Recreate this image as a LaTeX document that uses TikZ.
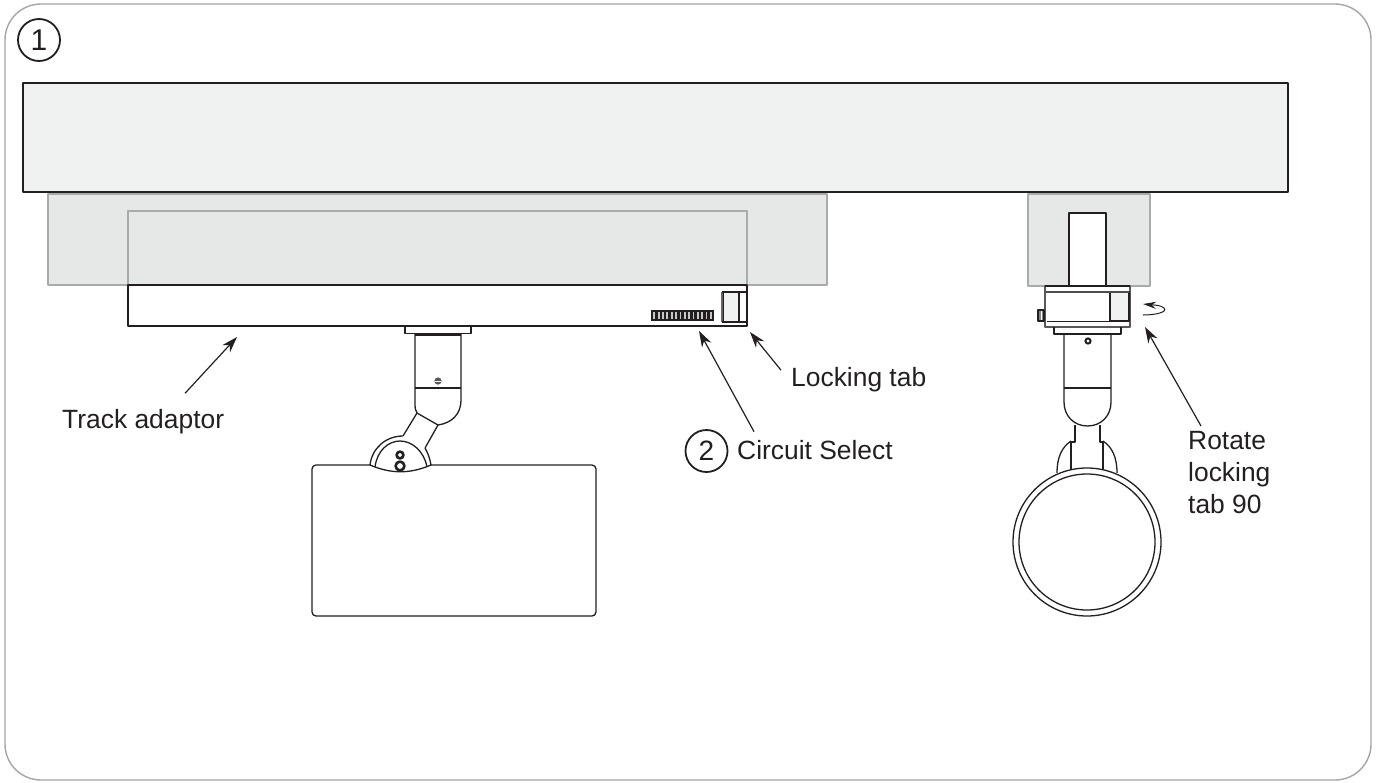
\documentclass[tikz,border=0pt]{standalone}
\usepackage{fontspec}
\setmainfont{Liberation Sans}
\usetikzlibrary{arrows.meta}
\definecolor{framegray}{HTML}{A3A5A7}
\definecolor{ceilfill}{HTML}{F0F2F1}
\definecolor{trackfill}{HTML}{E6E7E7}
\definecolor{trackline}{HTML}{A9ABAB}
\definecolor{inkdark}{HTML}{231F20}
\begin{document}
\begin{tikzpicture}[x=1pt,y=-1pt,>={Stealth[length=16pt,width=10.5pt]},
    line join=round,
    ink/.style={draw=inkdark,line width=1.3pt},
    thickink/.style={draw=inkdark,line width=2.2pt},
    block/.style={draw=trackline,fill=trackfill,line width=1.3pt},
    pointer/.style={->,draw=inkdark,line width=1.2pt},
    number node/.style={circle,draw=inkdark,line width=1.8pt,inner sep=0pt,text=inkdark,minimum size=42pt},
    callout/.style={anchor=base west,inner sep=0pt,text=inkdark,font=\fontsize{26.4}{32}\selectfont,align=left}]
    \useasboundingbox (0,0) rectangle (1378,782);
    % frame and ceiling
    \draw[draw=framegray,line width=1.4pt,rounded corners=36pt] (5,4) rectangle (1371,780);
    \node[number node,font=\fontsize{30}{34}\selectfont] (one) at (39,40) {1};
    \draw[ink,fill=ceilfill] (23,83) rectangle (1288,192);
    % left view, track
    \draw[block] (48,194) rectangle (827,285);
    \fill[white] (128,285) rectangle (747,326);
    \draw[draw=trackline,line width=1.3pt] (128,285) -- (128,211) -- (747,211) -- (747,285);
    \draw[ink] (128,285) rectangle (747,326);
    % locking tab
    \draw[ink,fill=ceilfill] (723,292) rectangle (739,322);
    \draw[thickink,draw=inkdark!70] (722,292) -- (722,322);
    \draw[ink] (722,292) -- (747,292) (722,322) -- (747,322);
    % circuit select
    \fill[inkdark] (651,310) rectangle (714,321);
    \foreach \i in {0,...,13}
        \fill[white!75!inkdark] ({653.4+4.35*\i},312) rectangle ({655.2+4.35*\i},319);
    % left view, stem
    \draw[ink] (405,326) -- (405,333.5) -- (471,333.5) -- (471,326);
    \draw[ink,fill=white] (415,334) -- (415,405) .. controls (415,409) and (416,411) .. (417,413)
        -- (438,425) .. controls (452,423) and (461,414) .. (461,400) -- (461,334);
    \draw[thickink] (415,334.5) -- (461,334.5) (415,388) -- (461,388);
    \fill[inkdark!75] (438,381) circle (3.6pt);
    \draw[white,line width=0.7pt] (435,381) -- (441,381);
    % left view, head
    \draw[ink,fill=white,rounded corners=4pt] (312,616) rectangle (596,465);
    \draw[ink] (417,413) -- (403,436) (438,425) -- (425,448);
    \fill[white] (370,465) .. controls (372,448) and (386,436) .. (403,436)
        -- (425,448) .. controls (428,453) and (430,459) .. (431,465)
        .. controls (410,474) and (391,474) .. (370,465) -- cycle;
    \draw[ink] (370,465) .. controls (372,448) and (386,436) .. (403,436)
        (425,448) .. controls (428,453) and (430,459) .. (431,465)
        .. controls (410,474) and (391,474) .. (370,465);
    \draw[ink] (375,467) .. controls (377,451) and (388,441) .. (400,441)
        .. controls (412,441) and (424,451) .. (427,467);
    \draw[line width=2.6pt,draw=inkdark] (400,455) circle (3.4pt) (400,466) circle (4.4pt);
    % right view, track
    \draw[block] (1028,194) rectangle (1150,286);
    \fill[white] (1069,213) rectangle (1106,287);
    \draw[ink] (1045,286) -- (1069,286) -- (1069,213) -- (1106,213) -- (1106,286) -- (1130,286);
    % right view, collar
    \fill[white] (1045,286) rectangle (1130,327);
    \draw[thickink,draw=inkdark!75] (1045,286) rectangle (1130,327);
    \draw[ink] (1045,286) -- (1130,286);
    \draw[ink,fill=ceilfill] (1110,292) rectangle (1129,321);
    \draw[thickink,draw=inkdark!80] (1046,292) -- (1129,292);
    \draw[ink] (1047,321.5) -- (1129,321.5);
    \draw[ink,fill=inkdark!55] (1038,310) rectangle (1044,321);
    \draw[white,line width=0.6pt] (1041,311) -- (1041,320);
    \draw[ink] (1054,327) -- (1054,334) -- (1121,334) -- (1121,327);
    % right view, stem
    \draw[ink] (1064,334) -- (1064,402) .. controls (1064,416) and (1074,426) .. (1087.5,426)
        .. controls (1101,426) and (1111,416) .. (1111,402) -- (1111,334);
    \draw[thickink] (1064,388) -- (1111,388);
    \draw[line width=2pt,draw=inkdark] (1088,341) circle (2.6pt);
    % right view, head
    \draw[ink] (1075,425) -- (1075,442) -- (1071,442) -- (1071,470) (1100,425) -- (1100,442) -- (1103,442) -- (1103,470);
    \draw[ink] (1071,441) .. controls (1062,447) and (1057,457) .. (1057,473);
    \draw[ink] (1103,441) .. controls (1112,447) and (1117,457) .. (1117,473);
    \draw[ink,fill=white] (1087,542) circle (74pt);
    \draw[ink] (1087,542) circle (68pt);
    % labels
    \node[callout] (track) at (62,428.5) {Track adaptor};
    \node[callout] (lock) at (791,386.5) {Locking tab};
    \node[number node,font=\fontsize{28}{32}\selectfont] (two) at (706.5,451) {2};
    \node[callout] (circuit) at (737,459) {Circuit Select};
    \node[callout,anchor=north west] (rotate) at (1188,431) {Rotate\\locking\\tab 90};
    \coordinate (tracktip) at (237,337);
    \coordinate (selecttip) at (699,331);
    \coordinate (locktip) at (750,332);
    \coordinate (rotatetip) at (1145,327);
    \coordinate (turnstart) at (1143,315);
    \coordinate (turnend) at (1143,304);
    \draw[pointer] ([shift={(42,-16)}]track.north) -- (tracktip);
    \draw[pointer] ([shift={(17,-8)}]circuit.north west) -- (selecttip);
    \draw[pointer] ([shift={(-10,3)}]lock.north west) -- (locktip);
    \draw[pointer] ([shift={(13,-5)}]rotate.north west) -- (rotatetip);
    \draw[->,draw=inkdark,line width=1pt,>={Stealth[length=13pt,width=7pt]}] (turnstart) .. controls (1156,315) and (1168,312) .. (1164,308) .. controls (1161,305) and (1153,305) .. (turnend);
\end{tikzpicture}
\end{document}
